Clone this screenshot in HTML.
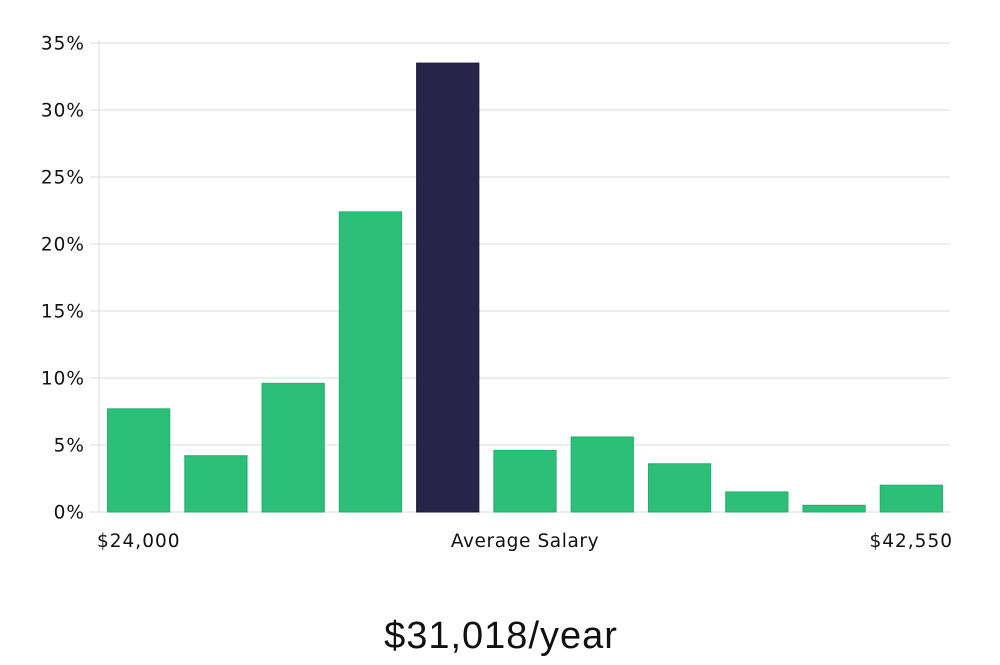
<!DOCTYPE html>
<html><head><meta charset="utf-8"><style>
body{margin:0;background:#fff;width:1000px;height:660px;overflow:hidden}
svg text{font-family:"DejaVu Sans","Liberation Sans",sans-serif}
</style></head><body>
<svg id="chart" width="1000" height="660" xmlns="http://www.w3.org/2000/svg">
<g id="grid"></g>
<g id="ylabels"></g>
<g id="bars"></g>
<text x="97" y="547" font-size="18.5" letter-spacing="1" fill="#111">$24,000</text>
<text x="525" y="547" font-size="18.5" letter-spacing="0.6" fill="#111" text-anchor="middle">Average Salary</text>
<text x="953" y="547" font-size="18.5" letter-spacing="1" fill="#111" text-anchor="end">$42,550</text>
<text x="501" y="648" font-size="38" letter-spacing="1" fill="#111" text-anchor="middle" style="font-family:'Liberation Sans',sans-serif;font-weight:300">$31,018/year</text>
</svg>
<script>
const categories=["b1","b2","b3","b4","b5","b6","b7","b8","b9","b10","b11"];
const values=[7.7,4.2,9.6,22.4,33.5,4.6,5.6,3.6,1.5,0.5,2.0];
const highlight=[0,0,0,0,1,0,0,0,0,0,0];
const yTicks=[0,5,10,15,20,25,30,35];
const yTickLabels=["0%","5%","10%","15%","20%","25%","30%","35%"];
const NS="http://www.w3.org/2000/svg";
const x0=100,x1=950,y0=512,y1=43,ymax=35;
const ys=v=>y0-(v/ymax)*(y0-y1);
const slot=(x1-x0)/categories.length;
const xs=i=>x0+i*slot;
const grid=document.getElementById('grid'),yl=document.getElementById('ylabels'),bars=document.getElementById('bars');
function mk(t,a){const e=document.createElementNS(NS,t);for(const k in a)e.setAttribute(k,a[k]);return e;}
const ax=mk('line',{x1:99,x2:99,y1:40,y2:512,stroke:'#ddd','stroke-width':1});


grid.appendChild(ax);
yTicks.forEach((t,i)=>{
  const y=ys(t);
  const l=mk('line',{x1:90,x2:950,y1:y,y2:y,stroke:'#dcdcdc','stroke-width':1});
  
  
  grid.appendChild(l);
  const tx=mk('text',{x:85,y:y+6.5,'font-size':18.5,'letter-spacing':1,fill:'#111','text-anchor':'end'});
  tx.textContent=yTickLabels[i];
  
  
  yl.appendChild(tx);
});
values.forEach((v,i)=>{
  const y=ys(v);
  const r=mk('rect',{x:xs(i)+7.5,y:y,width:slot-15,height:y0-y,
    fill:highlight[i]?'#27244a':'#2bbf77',stroke:highlight[i]?'#1e1b3d':'#26b06c','stroke-width':1});
  
  
  bars.appendChild(r);
});
</script>
</body></html>
